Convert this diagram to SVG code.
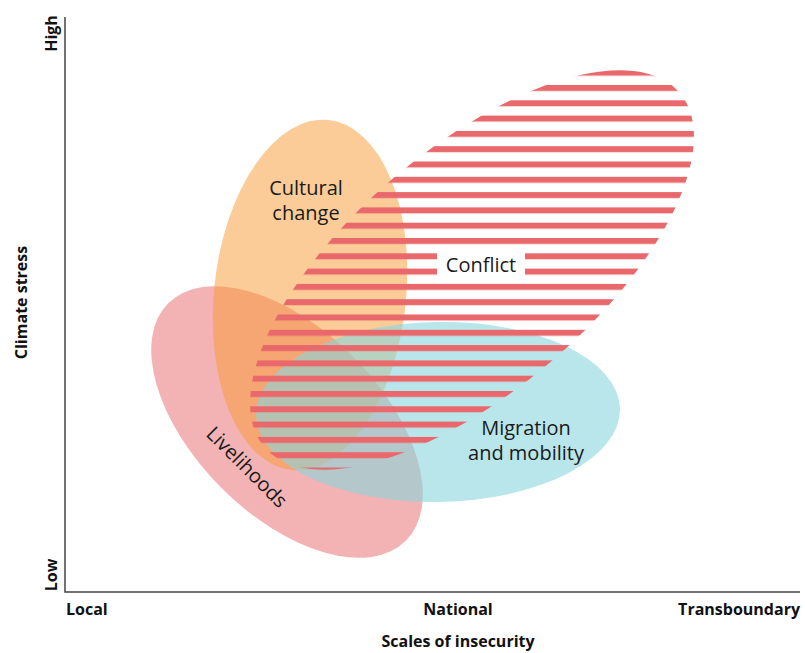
<svg xmlns="http://www.w3.org/2000/svg" width="805" height="653" viewBox="0 0 805 653">
<style>
.lbl{font-family:"Open Sans","Noto Sans","Liberation Sans",sans-serif;font-size:20px;fill:#1a1a1a}
.ax{font-family:"Open Sans","Noto Sans","Liberation Sans",sans-serif;font-size:16px;font-weight:700;fill:#111}
.axis{stroke:#444;stroke-width:1.5;fill:none}
</style>
<defs>
<pattern id="stripes" patternUnits="userSpaceOnUse" x="0" y="69.7" width="805" height="15.3">
<rect x="0" y="0" width="805" height="6" fill="#e9686b"/>
</pattern>
<clipPath id="conflict-clip">
<ellipse cx="472" cy="270" rx="273" ry="121" transform="rotate(-40.5 472 270)"/>
</clipPath>
</defs>
<rect width="805" height="653" fill="#ffffff"/>
<g id="axes">
<path class="axis" d="M65,17 V592 H800"/>
<text class="ax" transform="translate(57,33.5) rotate(-90)" text-anchor="middle">High</text>
<text class="ax" transform="translate(57,575) rotate(-90)" text-anchor="middle">Low</text>
<text class="ax" transform="translate(27,302.5) rotate(-90)" text-anchor="middle">Climate stress</text>
<text class="ax" x="66" y="615">Local</text>
<text class="ax" x="458" y="615" text-anchor="middle">National</text>
<text class="ax" x="800" y="615" text-anchor="end">Transboundary</text>
<text class="ax" x="458" y="647" text-anchor="middle">Scales of insecurity</text>
</g>
<g id="livelihoods">
<ellipse cx="287" cy="422" rx="168" ry="93" transform="rotate(45 287 422)" fill="#e8686a" fill-opacity="0.5"/>
</g>
<g id="cultural-change">
<ellipse cx="310" cy="295" rx="96" ry="176" transform="rotate(6 310 295)" fill="#f79a30" fill-opacity="0.5"/>
</g>
<g id="migration">
<ellipse cx="438" cy="412" rx="182" ry="90" transform="rotate(-1 438 412)" fill="#8ad5dc" fill-opacity="0.6"/>
</g>
<g id="conflict">
<rect x="0" y="0" width="805" height="653" fill="url(#stripes)" clip-path="url(#conflict-clip)"/>
<rect x="437" y="249" width="88" height="30" fill="#ffffff"/>
<text class="lbl" x="481" y="272" text-anchor="middle">Conflict</text>
</g>
<g id="labels">
<text class="lbl" x="306" y="195" text-anchor="middle">Cultural</text>
<text class="lbl" x="306" y="220" text-anchor="middle">change</text>
<text class="lbl" x="526" y="435" text-anchor="middle">Migration</text>
<text class="lbl" x="526" y="460" text-anchor="middle">and mobility</text>
<text class="lbl" transform="translate(242,472) rotate(45)" text-anchor="middle">Livelihoods</text>
</g>
<g id="connectors"></g>
</svg>
